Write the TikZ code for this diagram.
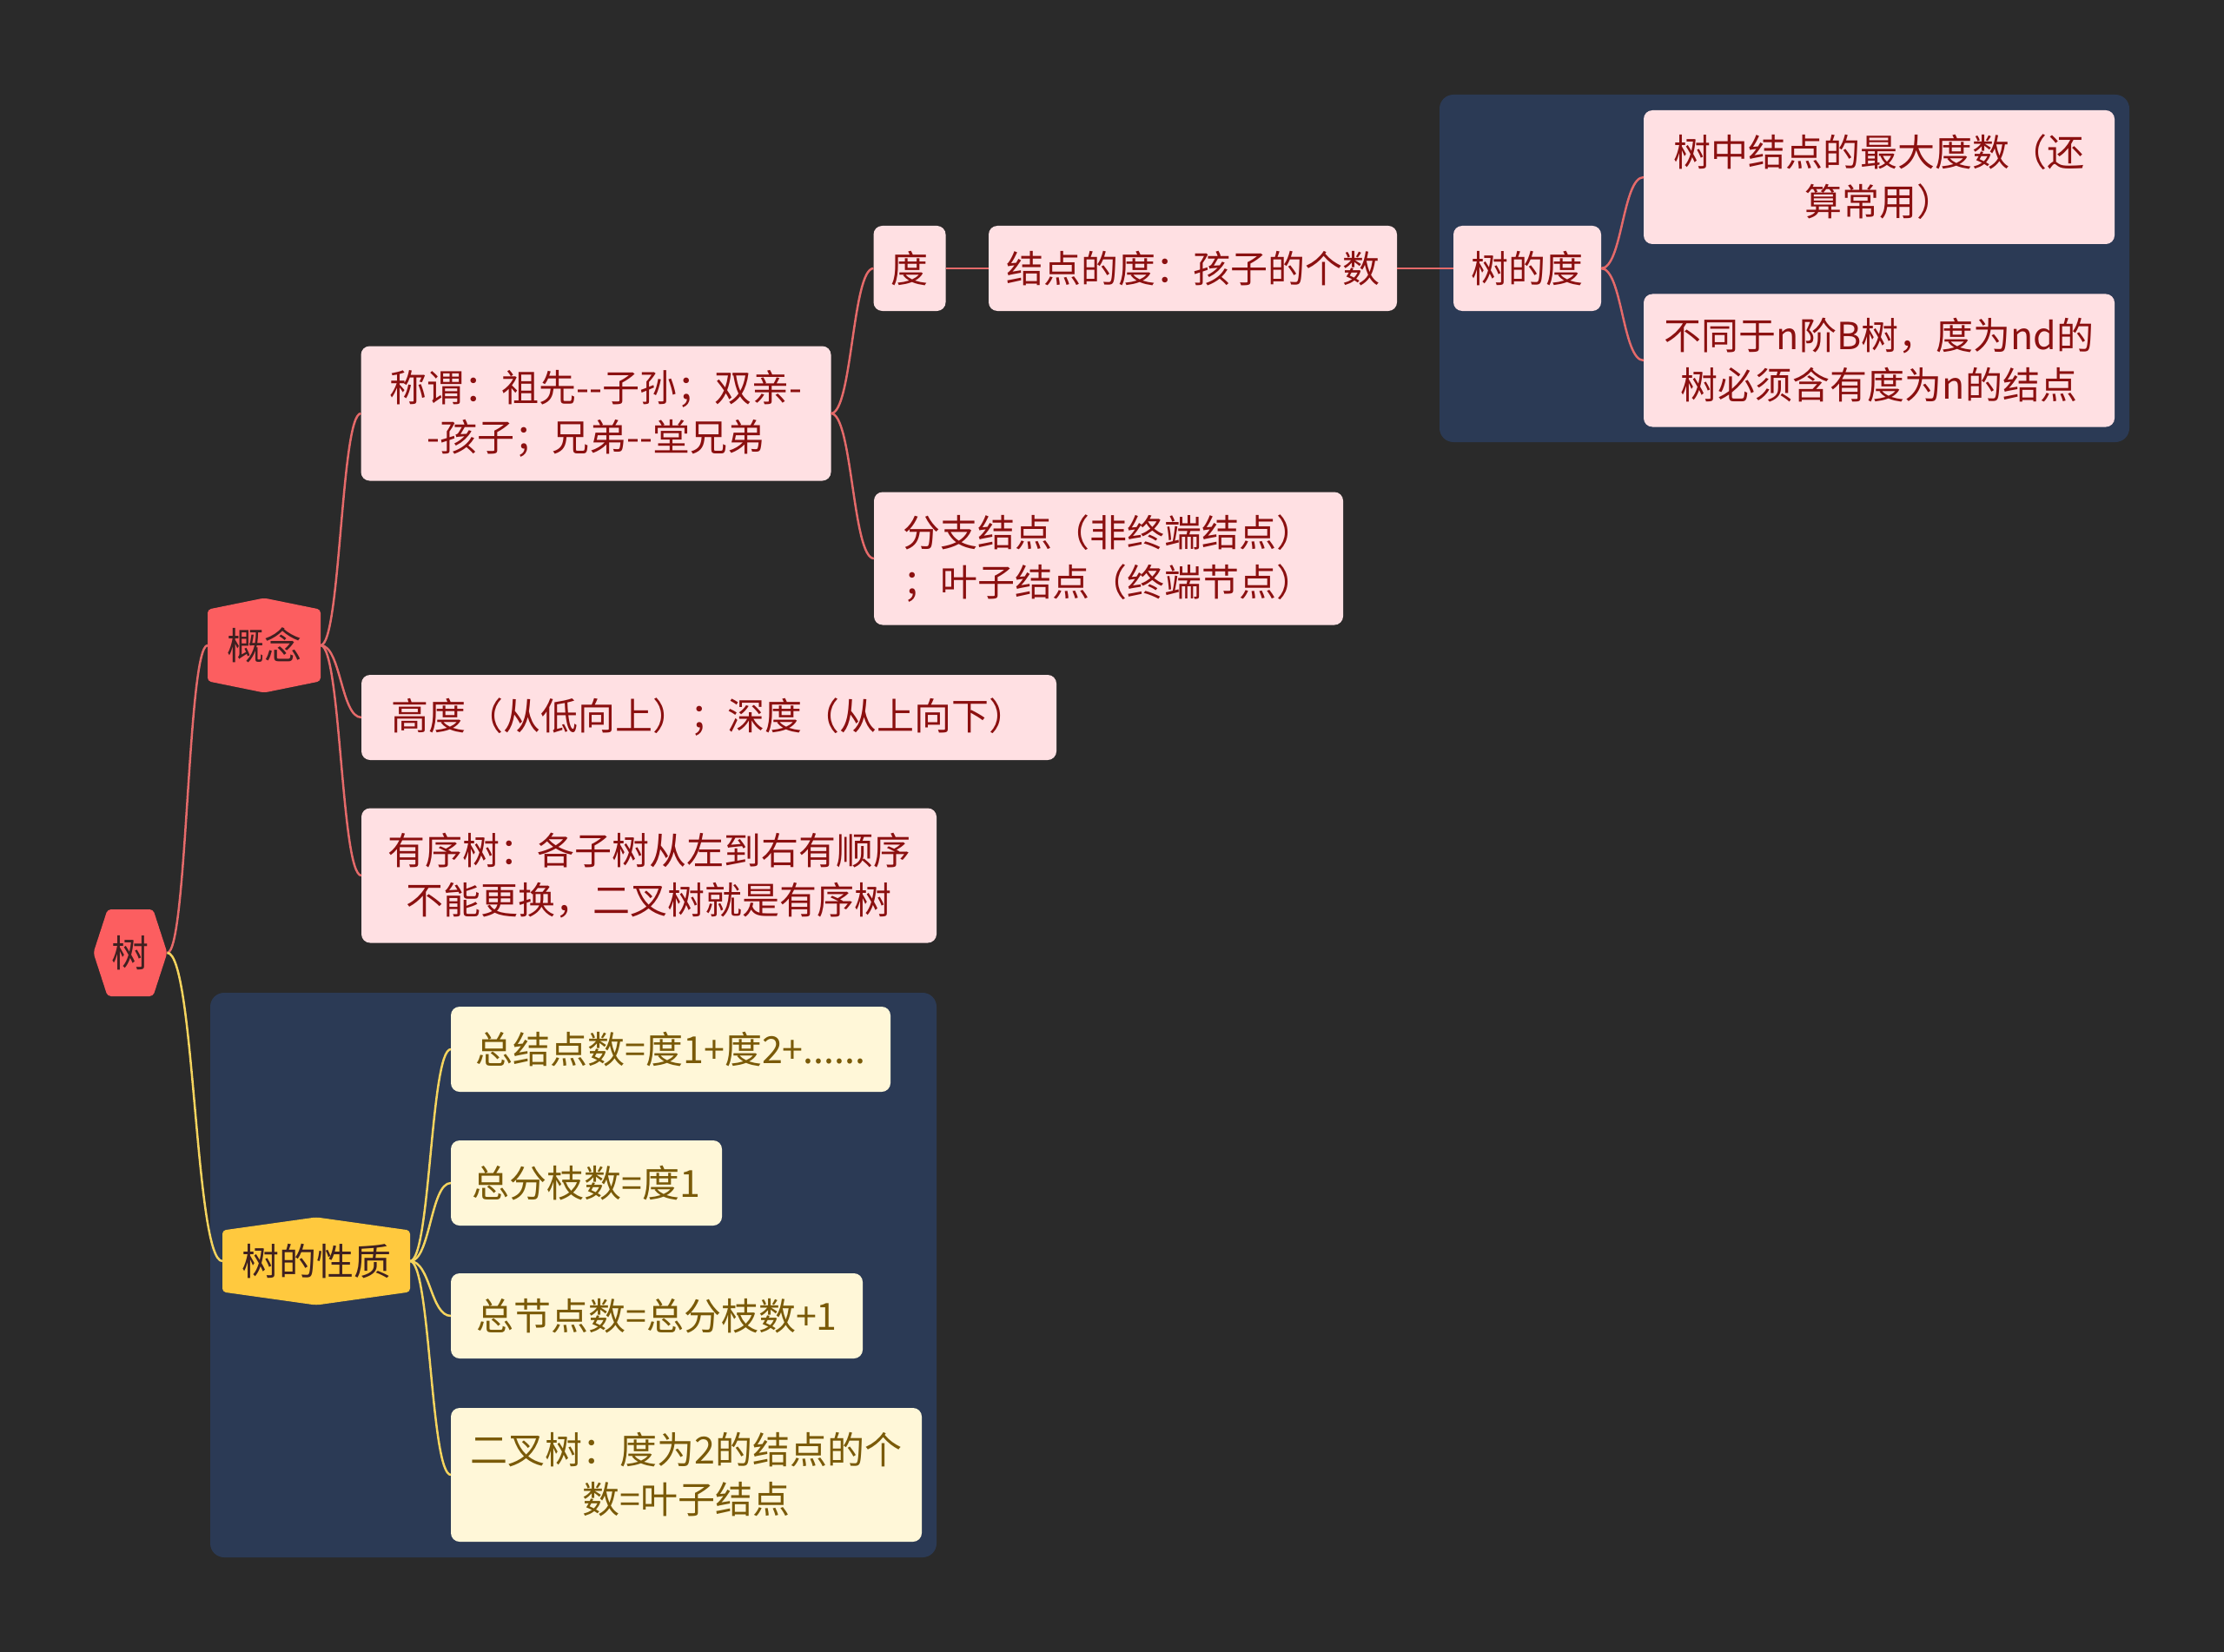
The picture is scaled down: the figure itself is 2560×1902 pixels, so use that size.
\documentclass[tikz,border=0pt]{standalone}
\usepackage{fontspec}
\setmainfont{Noto Sans CJK SC}
\usetikzlibrary{calc,shapes.symbols}

\definecolor{bgdark}{HTML}{2A2A2A}
\definecolor{navy}{HTML}{2B3A55}
\definecolor{pinkfill}{HTML}{FFE0E3}
\definecolor{pinktext}{HTML}{8B1010}
\definecolor{redhex}{HTML}{FC5E60}
\definecolor{redline}{HTML}{E56A6A}
\definecolor{hextext}{HTML}{3F2020}
\definecolor{yellowfill}{HTML}{FFF7D8}
\definecolor{yellowtext}{HTML}{7A5A08}
\definecolor{yellowhex}{HTML}{FFC93E}
\definecolor{yellowline}{HTML}{F5D45E}

\newcommand{\dd}{-\kern0pt-}

\begin{document}
\begin{tikzpicture}[
        x=1pt, y=-1pt,
        txt/.style={font=\fontsize{43}{57}\selectfont, align=center, inner sep=0pt, outer sep=0pt},
        pbox/.style={txt, rounded corners=10pt, fill=pinkfill, text=pinktext},
        ybox/.style={txt, rounded corners=10pt, fill=yellowfill, text=yellowtext},
        rhex/.style={txt, signal, rounded corners=4pt, fill=redhex, text=hextext},
        yhex/.style={txt, signal, rounded corners=4pt, fill=yellowhex, text=hextext},
        rline/.style={redline, line width=2.5pt},
        yline/.style={yellowline, line width=2.5pt},
        group/.style={fill=navy, rounded corners=16pt},
        branch/.style={to path={let \p1=(\tikztostart), \p2=(\tikztotarget) in
            (\p1) .. controls ({0.5*\x1+0.5*\x2},\y1) and ({0.5*\x1+0.5*\x2},\y2) .. (\p2)}},
    ]
    \fill[bgdark] (0,0) rectangle (2560,1902);
    \useasboundingbox (0,0) rectangle (2560,1902);

    \fill[group] (1657,109) rectangle (2451,509);
    \fill[group] (242,1143) rectangle (1078,1793);

    \node[rhex, signal to=east and west, signal pointer angle=144, minimum width=85, minimum height=100] (shu) at (150,1097) {树};
    \node[rhex, signal to=north and south, signal pointer angle=157, minimum width=130, minimum height=100] (gainian) at (304,743) {概念};
    \node[yhex, signal to=north and south, signal pointer angle=164, minimum width=216, minimum height=95] (xingzhi) at (364,1452) {树的性质};

    \node[pbox, minimum width=541, minimum height=155] (chengwei) at (686,476) {称谓：祖先\dd 子孙；双亲-\\-孩子；兄弟\dd 堂兄弟};
    \node[pbox, minimum width=800, minimum height=98] (gaodu) at (816,826) {高度（从低向上）；深度（从上向下）};
    \node[pbox, minimum width=662, minimum height=155] (youxu) at (747,1008) {有序树：各子树从左到右有顺序\\不能更换，二叉树就是有序树};

    \node[pbox, minimum width=83, minimum height=98] (du) at (1047,309) {度};
    \node[pbox, minimum width=470, minimum height=98] (jiedianDu) at (1373,309) {结点的度：孩子的个数};
    \node[pbox, minimum width=170, minimum height=98] (shuDu) at (1758,309) {树的度};
    \node[pbox, minimum width=542, minimum height=154] (zuida) at (2163,204) {树中结点的最大度数（还\\算常用）};
    \node[pbox, minimum width=542, minimum height=153] (butong) at (2163,415) {不同于n阶B树，度为nd的\\树必须含有度为n的结点};
    \node[pbox, minimum width=540, minimum height=153] (fenzhi) at (1276,643) {分支结点（非终端结点）\\；叶子结点（终端节点）};

    \node[ybox, minimum width=506, minimum height=98] (zongJie) at (772,1208) {总结点数=度1+度2+......};
    \node[ybox, minimum width=312, minimum height=98] (zongFen) at (675,1362) {总分枝数=度1};
    \node[ybox, minimum width=474, minimum height=98] (zongJie2) at (756,1515) {总节点数=总分枝数+1};
    \node[ybox, minimum width=542, minimum height=154] (ercha) at (790,1698) {二叉树：度为2的结点的个\\数=叶子结点};

    \draw[rline] (shu.east) to[branch] (gainian.west);
    \draw[rline] (gainian.east) to[branch] (chengwei.west);
    \draw[rline] (gainian.east) to[branch] (gaodu.west);
    \draw[rline] (gainian.east) to[branch] (youxu.west);
    \draw[rline] (chengwei.east) to[branch] (du.west);
    \draw[rline] (chengwei.east) to[branch] (fenzhi.west);
    \draw[rline] (du.east) -- (jiedianDu.west);
    \draw[rline] (jiedianDu.east) -- (shuDu.west);
    \draw[rline] (shuDu.east) to[branch] (zuida.west);
    \draw[rline] (shuDu.east) to[branch] (butong.west);

    \draw[yline] (shu.east) to[branch] (xingzhi.west);
    \draw[yline] (xingzhi.east) to[branch] (zongJie.west);
    \draw[yline] (xingzhi.east) to[branch] (zongFen.west);
    \draw[yline] (xingzhi.east) to[branch] (zongJie2.west);
    \draw[yline] (xingzhi.east) to[branch] (ercha.west);
\end{tikzpicture}
\end{document}
